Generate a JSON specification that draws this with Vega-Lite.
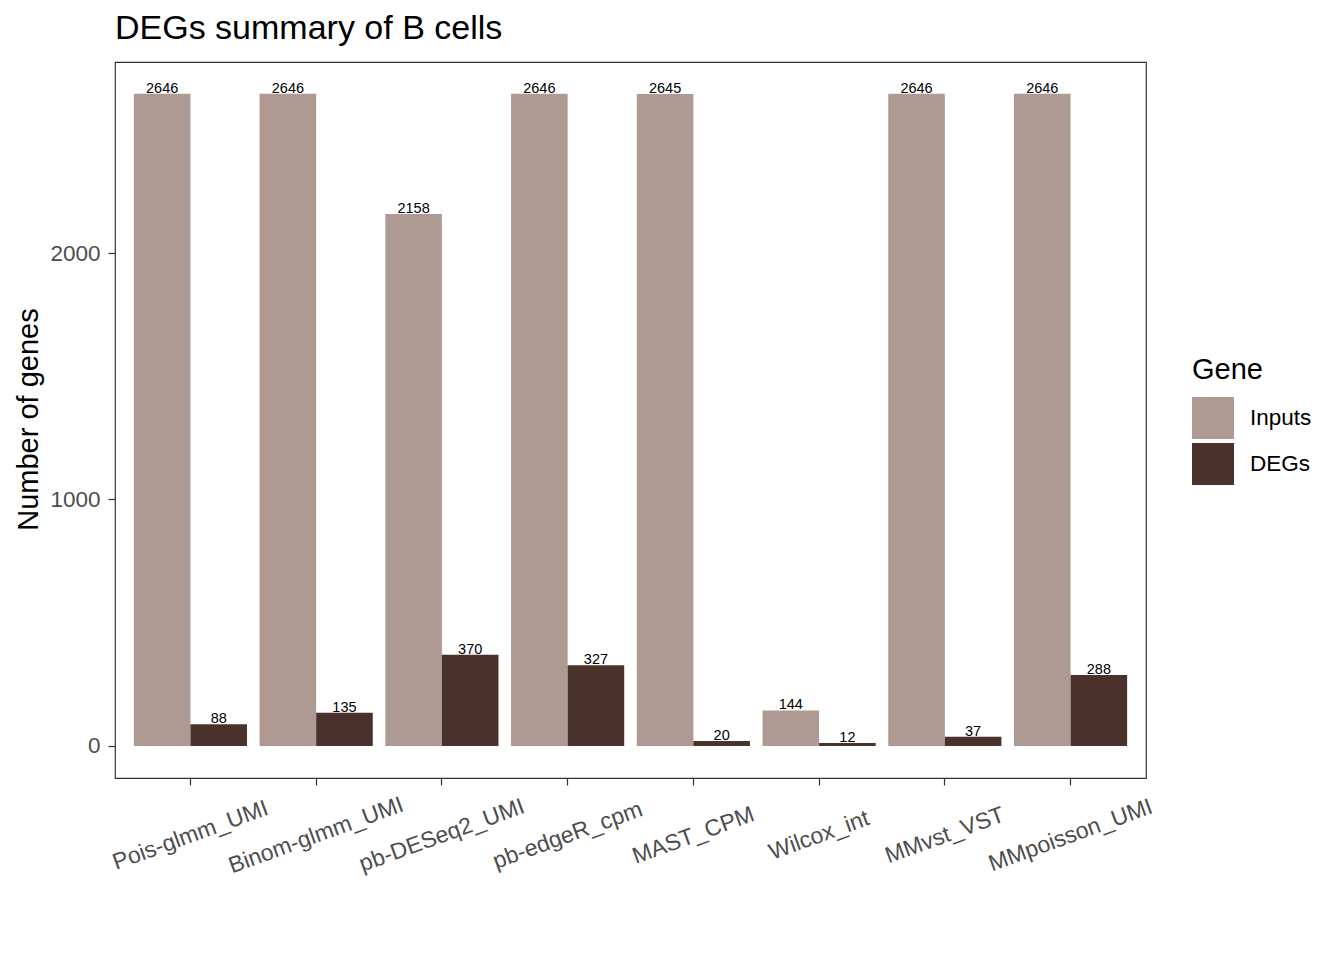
{
  "$schema": "https://vega.github.io/schema/vega-lite/v6.json",
  "autosize": {"type": "none"},
  "width": 1031,
  "height": 716,
  "padding": {"left": 115, "top": 62, "right": 198, "bottom": 182},
  "background": "white",
  "title": {
    "text": "DEGs summary of  B cells",
    "anchor": "start",
    "frame": "group",
    "font": "Liberation Sans",
    "fontSize": 34,
    "fontWeight": "normal",
    "color": "black",
    "baseline": "bottom",
    "offset": 20,
    "dy": 38
  },
  "config": {
    "font": "Liberation Sans",
    "view": {"stroke": "#333333", "strokeWidth": 1.2},
    "axis": {"grid": false}
  },
  "data": {
    "values": [
      {"method": "Pois-glmm_UMI", "gene": "Inputs", "n": 2646},
      {"method": "Pois-glmm_UMI", "gene": "DEGs", "n": 88},
      {"method": "Binom-glmm_UMI", "gene": "Inputs", "n": 2646},
      {"method": "Binom-glmm_UMI", "gene": "DEGs", "n": 135},
      {"method": "pb-DESeq2_UMI", "gene": "Inputs", "n": 2158},
      {"method": "pb-DESeq2_UMI", "gene": "DEGs", "n": 370},
      {"method": "pb-edgeR_cpm", "gene": "Inputs", "n": 2646},
      {"method": "pb-edgeR_cpm", "gene": "DEGs", "n": 327},
      {"method": "MAST_CPM", "gene": "Inputs", "n": 2645},
      {"method": "MAST_CPM", "gene": "DEGs", "n": 20},
      {"method": "Wilcox_int", "gene": "Inputs", "n": 144},
      {"method": "Wilcox_int", "gene": "DEGs", "n": 12},
      {"method": "MMvst_VST", "gene": "Inputs", "n": 2646},
      {"method": "MMvst_VST", "gene": "DEGs", "n": 37},
      {"method": "MMpoisson_UMI", "gene": "Inputs", "n": 2646},
      {"method": "MMpoisson_UMI", "gene": "DEGs", "n": 288}
    ]
  },
  "encoding": {
    "x": {
      "field": "method",
      "type": "nominal",
      "sort": null,
      "scale": {"paddingInner": 0.1, "paddingOuter": 0.15},
      "axis": {
        "title": null,
        "labelAngle": -20,
        "labelAlign": "center",
        "labelBaseline": "middle",
        "labelPadding": 50,
        "labelFontSize": 23,
        "labelColor": "#4D4D4D",
        "labelLimit": 0,
        "labelOverlap": false,
        "tickSize": 7,
        "tickColor": "#333333",
        "tickWidth": 1.2,
        "domain": false
      }
    },
    "xOffset": {
      "field": "gene",
      "type": "nominal",
      "sort": ["Inputs", "DEGs"],
      "scale": {"paddingInner": 0, "paddingOuter": 0}
    },
    "y": {
      "field": "n",
      "type": "quantitative",
      "stack": null,
      "scale": {"domain": [-130, 2775], "nice": false, "zero": false},
      "axis": {
        "title": "Number of genes",
        "titleFontSize": 29,
        "titleFontWeight": "normal",
        "titleColor": "black",
        "titleX": -87,
        "titleY": 357,
        "titleAlign": "center",
        "titleBaseline": "middle",
        "titleAngle": -90,
        "values": [0, 1000, 2000],
        "format": "d",
        "labelFontSize": 22.5,
        "labelColor": "#4D4D4D",
        "labelPadding": 8,
        "tickSize": 7,
        "tickColor": "#333333",
        "tickWidth": 1.2,
        "domain": false
      }
    }
  },
  "layer": [
    {
      "mark": {"type": "bar"},
      "encoding": {
        "y2": {"datum": 0},
        "color": {
          "field": "gene",
          "type": "nominal",
          "sort": ["Inputs", "DEGs"],
          "scale": {"domain": ["Inputs", "DEGs"], "range": ["#AF9A93", "#4B312B"]},
          "legend": {
            "title": "Gene",
            "orient": "none",
            "legendX": 1077,
            "legendY": 294,
            "padding": 0,
            "titleFontSize": 29,
            "titleFontWeight": "normal",
            "titleColor": "black",
            "titlePadding": 12,
            "symbolType": "square",
            "symbolSize": 1764,
            "symbolStrokeWidth": 0,
            "symbolOpacity": 1,
            "rowPadding": 4,
            "labelFontSize": 22.5,
            "labelColor": "black",
            "labelOffset": 16
          }
        }
      }
    },
    {
      "mark": {"type": "text", "baseline": "alphabetic", "dy": -1, "fontSize": 14.5, "color": "black"},
      "encoding": {
        "text": {"field": "n", "type": "quantitative"}
      }
    }
  ]
}
